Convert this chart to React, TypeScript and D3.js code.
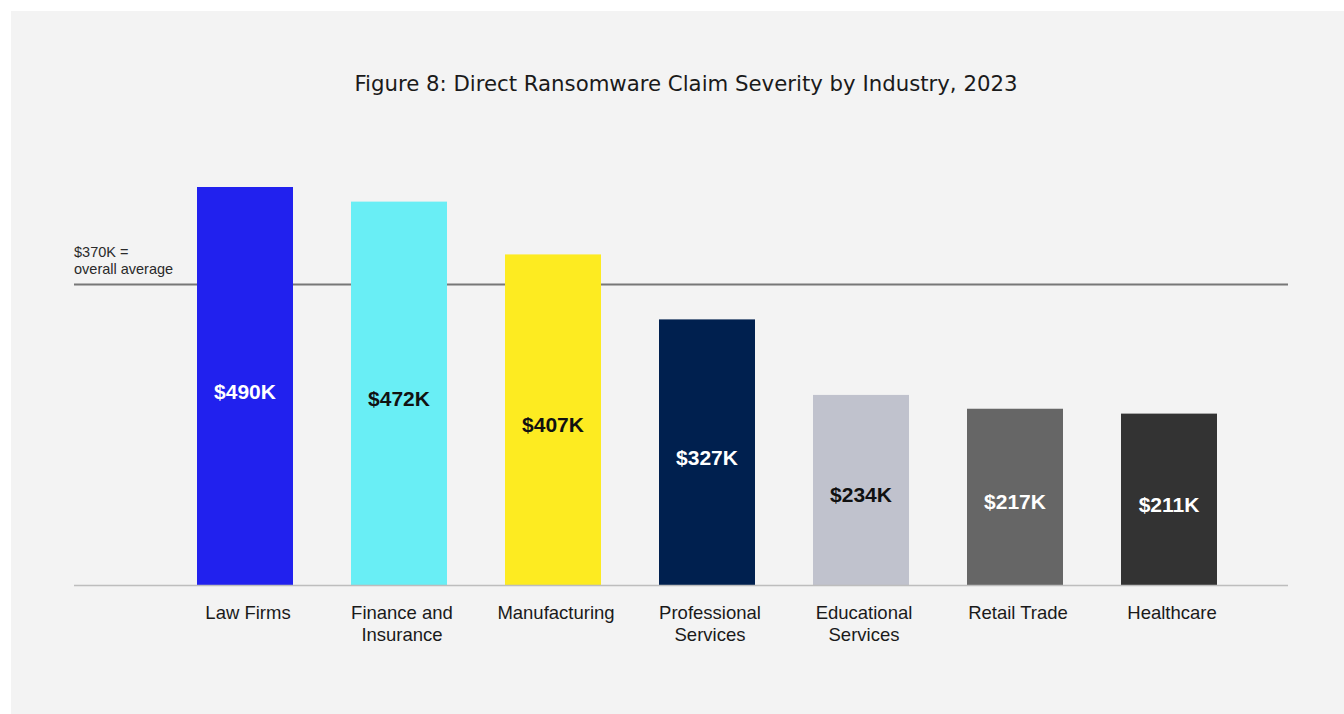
import React from 'react';
import * as d3 from 'd3';

const industries = ['Law Firms', 'Finance and Insurance', 'Manufacturing', 'Professional Services', 'Educational Services', 'Retail Trade', 'Healthcare'];
const labelLines = [['Law Firms'], ['Finance and', 'Insurance'], ['Manufacturing'], ['Professional', 'Services'], ['Educational', 'Services'], ['Retail Trade'], ['Healthcare']];
const severity = [490, 472, 407, 327, 234, 217, 211];
const barColors = ['#2121ee', '#69eef5', '#fdeb21', '#00204f', '#c0c2cd', '#666666', '#333333'];
const valueTextColors = ['#ffffff', '#111111', '#111111', '#ffffff', '#111111', '#ffffff', '#ffffff'];
const overallAverage = 370;

const W = 1344;
const H = 714;
const FONT = '"Liberation Sans", Arial, sans-serif';

const App: React.FC = () => {
    const baseY = 585;
    const x = d3.scaleBand<string>()
        .domain(industries)
        .range([168, 168 + 7 * 154])
        .paddingInner(58 / 154)
        .paddingOuter(29 / 154);

    const y = d3.scaleLinear()
        .domain([0, 490])
        .range([baseY, 187]);

    const avgY = y(overallAverage);

    return (
        <svg width={W} height={H} style={{ position: 'absolute', left: 0, top: 0, display: 'block', background: '#fff' }}>
            <rect x={11} y={11} width={W - 11} height={H - 11} fill="#f3f3f3" />

            <text x={686} y={91} textAnchor="middle" fontFamily={'"Liberation Sans Narrow", "DejaVu Sans Condensed", sans-serif'}
                fontSize={22} fill="#1a1a1a" textLength={663} lengthAdjust="spacingAndGlyphs">
                Figure 8: Direct Ransomware Claim Severity by Industry, 2023
            </text>

            {/* average reference line */}
            <line x1={74} x2={1288} y1={avgY} y2={avgY} stroke="#777" strokeWidth={2} />
            <text x={74} y={257} fontFamily={FONT} fontSize={14.5} fill="#2a2a2a">$370K =</text>
            <text x={74} y={274} fontFamily={FONT} fontSize={14.5} fill="#2a2a2a">overall average</text>

            {industries.map((d, i) => {
                const x0 = x(d) || 0;
                const top = y(severity[i]);
                return (
                    <g key={d}>
                        <rect x={x0} y={top} width={x.bandwidth()} height={baseY - top} fill={barColors[i]} />
                        <text x={x0 + x.bandwidth() / 2} y={(top + baseY) / 2 + 5} textAnchor="middle"
                            dominantBaseline="central" fontFamily={FONT} fontWeight="bold" fontSize={21}
                            fill={valueTextColors[i]}>
                            ${severity[i]}K
                        </text>
                        {labelLines[i].map((line, j) => (
                            <text key={j} x={x0 + x.bandwidth() / 2 + 3} y={619 + j * 22} textAnchor="middle"
                                fontFamily={FONT} fontSize={18.5} fill="#1a1a1a">
                                {line}
                            </text>
                        ))}
                    </g>
                );
            })}

            {/* baseline */}
            <line x1={74} x2={1288} y1={baseY + 0.5} y2={baseY + 0.5} stroke="#bdbdbd" strokeWidth={1.5} />
        </svg>
    );
};

export default App;
